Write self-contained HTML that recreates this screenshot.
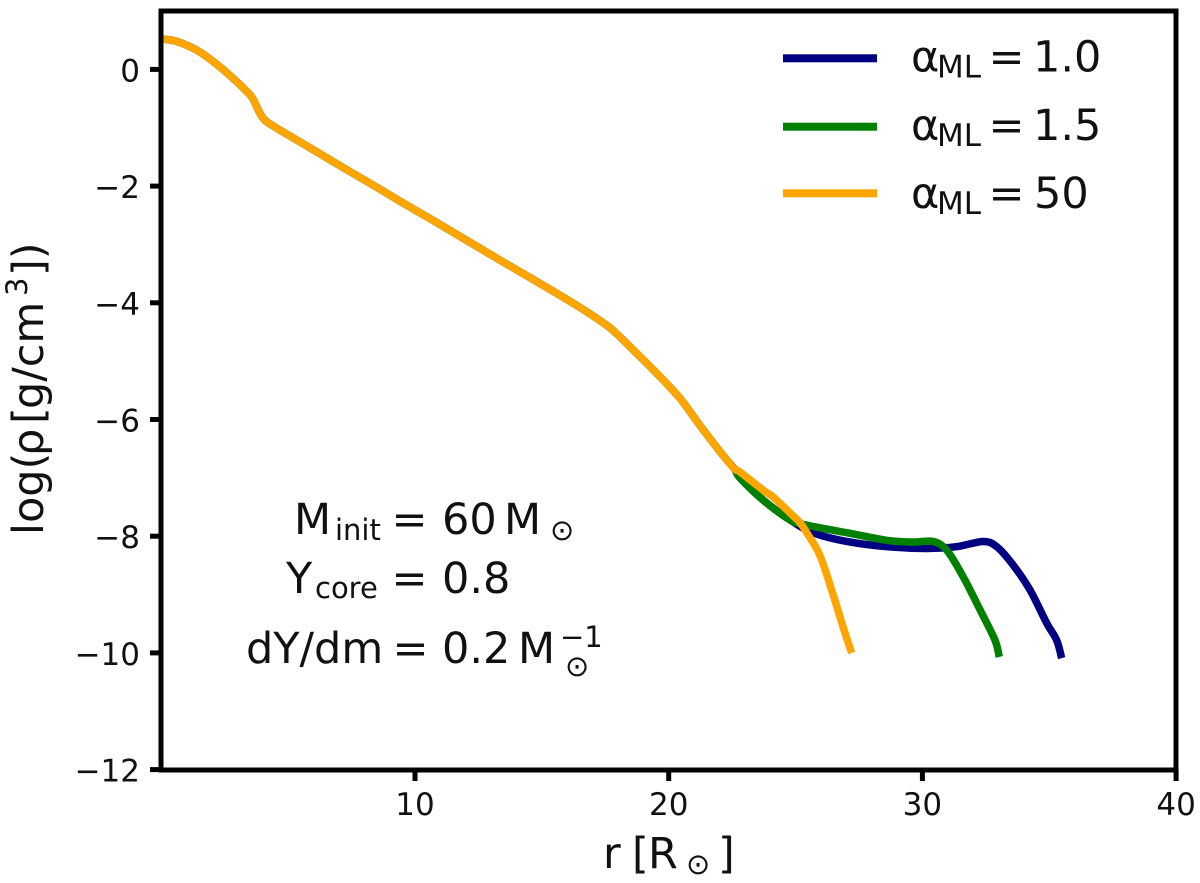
<!DOCTYPE html>
<html lang="en">
<head>
<meta charset="utf-8">
<title>Density profile</title>
<style>
html,body{margin:0;padding:0;background:#fff;}
svg{display:block;}
text{font-family:"DejaVu Sans","Liberation Sans",sans-serif;fill:#111;}
.big{font-size:43px;}
.sub{font-size:29px;}
.ml{font-size:31px;}
.tick{font-size:31px;}
</style>
</head>
<body>
<svg id="chart" width="1200" height="883" viewBox="0 0 1200 883" xmlns="http://www.w3.org/2000/svg">
  <rect x="0" y="0" width="1200" height="883" fill="#fff"/>
  <g id="series" fill="none" stroke-linejoin="round"></g>
  <g id="ticks"></g>
  <rect x="161" y="11" width="1015" height="759" fill="none" stroke="#000" stroke-width="5"/>

  <g>
    <text class="big" x="603" y="868">r</text>
    <text class="big" x="632" y="868">[</text>
    <text class="big" x="648" y="868">R</text>
    <text class="sub" x="686" y="874">⊙</text>
    <text class="big" x="718" y="868">]</text>
  </g>

  <g transform="translate(43,535) rotate(-90)">
    <text class="big" x="0" y="0">log(</text>
    <text class="big" x="79" y="0">ρ</text>
    <text class="big" x="111" y="0">[</text>
    <text class="big" x="126" y="0">g/cm</text>
    <text class="sub" x="239" y="-16">3</text>
    <text class="big" x="259" y="0">])</text>
  </g>

  <g>
    <g>
      <rect x="783" y="54.3" width="94" height="8" fill="#000080"/>
      <text class="big" x="911" y="71.7">α</text>
      <text class="ml" x="937" y="77.5">ML</text>
      <text class="big" x="988.5" y="71.7">=</text>
      <text class="big" x="1033" y="71.7">1.0</text>
    </g>
    <g>
      <rect x="783" y="122.7" width="94" height="8" fill="#008000"/>
      <text class="big" x="911" y="140">α</text>
      <text class="ml" x="937" y="145.8">ML</text>
      <text class="big" x="988.5" y="140">=</text>
      <text class="big" x="1033" y="140">1.5</text>
    </g>
    <g>
      <rect x="783" y="189.3" width="94" height="8" fill="#ffa500"/>
      <text class="big" x="911" y="208">α</text>
      <text class="ml" x="937" y="213.8">ML</text>
      <text class="big" x="988.5" y="208">=</text>
      <text class="big" x="1034" y="208">50</text>
    </g>
  </g>

  <g>
    <g>
      <text class="big" x="294" y="534">M</text>
      <text class="sub" x="335" y="540">init</text>
      <text class="big" x="391.5" y="534">=</text>
      <text class="big" x="442" y="534">60</text>
      <text class="big" x="504" y="534">M</text>
      <text class="sub" x="550" y="540">⊙</text>
    </g>
    <g>
      <text class="big" x="286" y="593">Y</text>
      <text class="sub" x="315" y="598">core</text>
      <text class="big" x="391.5" y="593">=</text>
      <text class="big" x="442" y="593">0.8</text>
    </g>
    <g>
      <text class="big" x="246" y="663">dY/dm</text>
      <text class="big" x="392.5" y="663">=</text>
      <text class="big" x="442" y="663">0.2</text>
      <text class="big" x="518" y="663">M</text>
      <text class="sub" x="565" y="676">⊙</text>
      <text class="sub" x="560" y="647">−1</text>
    </g>
  </g>
</svg>
<script>
var xTickValues = [10, 20, 30, 40];
var xTickLabels = ["10", "20", "30", "40"];
var yTickValues = [0, -2, -4, -6, -8, -10, -12];
var yTickLabels = ["0", "−2", "−4", "−6", "−8", "−10", "−12"];

var sharedRadius = [0.07, 0.61, 1.40, 2.18, 2.97, 3.56, 3.76, 4.02, 4.41, 5.73, 7.04, 8.34, 9.41, 10.72, 12.04, 13.35, 14.66, 15.98, 16.90, 17.69, 18.21, 19.53, 20.45, 21.23, 22.15, 22.60];
var sharedDensity = [0.52, 0.48, 0.33, 0.09, -0.21, -0.47, -0.64, -0.84, -0.97, -1.31, -1.65, -1.98, -2.26, -2.59, -2.93, -3.27, -3.60, -3.94, -4.19, -4.43, -4.64, -5.21, -5.64, -6.10, -6.62, -6.85];

var alpha10Radius = [22.81, 23.72, 24.78, 25.69, 27.02, 28.59, 30.17, 31.35, 32.39, 32.93, 33.57, 34.24, 34.90, 35.29, 35.49];
var alpha10Density = [-7.00, -7.38, -7.72, -7.94, -8.09, -8.18, -8.21, -8.18, -8.09, -8.18, -8.49, -8.92, -9.49, -9.78, -10.09];

var alpha15Radius = [22.81, 23.72, 24.78, 25.44, 27.02, 28.59, 29.63, 30.42, 30.96, 31.60, 32.27, 32.86, 33.03];
var alpha15Density = [-7.00, -7.38, -7.72, -7.81, -7.94, -8.07, -8.10, -8.09, -8.24, -8.69, -9.26, -9.78, -10.07];

var alpha50Radius = [22.81, 23.72, 24.12, 24.78, 25.18, 25.44, 25.96, 26.48, 26.87, 27.21];
var alpha50Density = [-6.90, -7.21, -7.33, -7.60, -7.77, -7.94, -8.33, -9.00, -9.55, -10.00];

var NS = "http://www.w3.org/2000/svg";

function xScale(r) {
  return 161.3 + 25.37 * r;
}
function yScale(v) {
  return 69.4 - 58.35 * v;
}

function buildPath(rs, vs) {
  var pts = [];
  for (var i = 0; i < rs.length; i++) {
    pts.push([xScale(rs[i]), yScale(vs[i])]);
  }
  var d = "M" + pts[0][0].toFixed(2) + " " + pts[0][1].toFixed(2);
  for (var j = 0; j < pts.length - 1; j++) {
    var p0 = pts[Math.max(j - 1, 0)];
    var p1 = pts[j];
    var p2 = pts[j + 1];
    var p3 = pts[Math.min(j + 2, pts.length - 1)];
    var c1x = p1[0] + (p2[0] - p0[0]) / 6;
    var c1y = p1[1] + (p2[1] - p0[1]) / 6;
    var c2x = p2[0] - (p3[0] - p1[0]) / 6;
    var c2y = p2[1] - (p3[1] - p1[1]) / 6;
    d += "C" + c1x.toFixed(2) + " " + c1y.toFixed(2) + " " + c2x.toFixed(2) + " " + c2y.toFixed(2) + " " + p2[0].toFixed(2) + " " + p2[1].toFixed(2);
  }
  return d;
}

var seriesGroup = document.getElementById("series");

function drawSeries(name, color, tailR, tailV) {
  var el = document.createElementNS(NS, "path");
  
  
  el.setAttribute("d", buildPath(sharedRadius.concat(tailR), sharedDensity.concat(tailV)));
  el.setAttribute("stroke", color);
  el.setAttribute("stroke-width", "7.5");
  seriesGroup.appendChild(el);
}

drawSeries("series-alpha-1-0", "#000080", alpha10Radius, alpha10Density);
drawSeries("series-alpha-1-5", "#008000", alpha15Radius, alpha15Density);
drawSeries("series-alpha-50", "#ffa500", alpha50Radius, alpha50Density);

var tickGroup = document.getElementById("ticks");

xTickValues.forEach(function (value, i) {
  var px = xScale(value);
  var mark = document.createElementNS(NS, "line");
  
  
  mark.setAttribute("x1", px);
  mark.setAttribute("x2", px);
  mark.setAttribute("y1", 770);
  mark.setAttribute("y2", 781);
  mark.setAttribute("stroke", "#000");
  mark.setAttribute("stroke-width", "5");
  tickGroup.appendChild(mark);
  var label = document.createElementNS(NS, "text");
  
  
  label.setAttribute("class", "tick");
  label.setAttribute("x", px);
  label.setAttribute("y", 815);
  label.setAttribute("text-anchor", "middle");
  label.textContent = xTickLabels[i];
  tickGroup.appendChild(label);
});

yTickValues.forEach(function (value, i) {
  var py = yScale(value);
  var mark = document.createElementNS(NS, "line");
  
  
  mark.setAttribute("x1", 150);
  mark.setAttribute("x2", 161);
  mark.setAttribute("y1", py);
  mark.setAttribute("y2", py);
  mark.setAttribute("stroke", "#000");
  mark.setAttribute("stroke-width", "5");
  tickGroup.appendChild(mark);
  var label = document.createElementNS(NS, "text");
  
  
  label.setAttribute("class", "tick");
  label.setAttribute("x", 140);
  label.setAttribute("y", py + 12);
  label.setAttribute("text-anchor", "end");
  label.textContent = yTickLabels[i];
  tickGroup.appendChild(label);
});
</script>
</body>
</html>
